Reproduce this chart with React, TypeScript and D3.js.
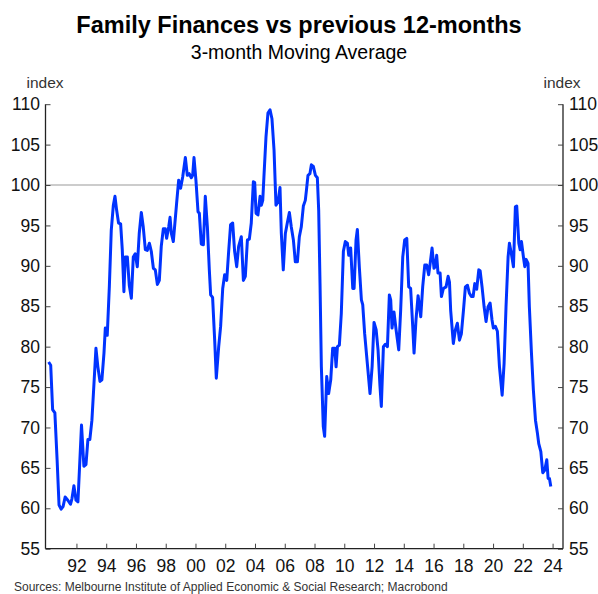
import { useEffect, useRef } from "react";
import * as d3 from "d3";

const W = 598;
const H = 594;

const dates = [
  1990.13, 1990.27, 1990.4, 1990.55, 1990.7, 1990.83, 1990.97, 1991.1, 1991.24, 1991.42,
  1991.6, 1991.7, 1991.83, 1991.97, 1992.1, 1992.34, 1992.5, 1992.64, 1992.77, 1992.9,
  1993.04, 1993.18, 1993.31, 1993.44, 1993.58, 1993.71, 1993.85, 1993.94, 1994.07, 1994.21,
  1994.34, 1994.48, 1994.59, 1994.7, 1994.83, 1994.97, 1995.08, 1995.19, 1995.28, 1995.42,
  1995.55, 1995.69, 1995.82, 1995.95, 1996.09, 1996.22, 1996.36, 1996.49, 1996.63, 1996.76,
  1996.9, 1997.03, 1997.17, 1997.3, 1997.44, 1997.57, 1997.7, 1997.84, 1997.97, 1998.06,
  1998.2, 1998.29, 1998.38, 1998.51, 1998.73, 1998.87, 1999.0, 1999.14, 1999.32, 1999.45,
  1999.58, 1999.72, 1999.81, 1999.9, 2000.03, 2000.17, 2000.26, 2000.39, 2000.53, 2000.66,
  2000.8, 2000.93, 2001.02, 2001.15, 2001.29, 2001.4, 2001.56, 2001.69, 2001.83, 2001.96,
  2002.1, 2002.23, 2002.36, 2002.5, 2002.63, 2002.77, 2002.9, 2003.08, 2003.22, 2003.35,
  2003.49, 2003.62, 2003.75, 2003.89, 2003.98, 2004.07, 2004.2, 2004.34, 2004.43, 2004.52,
  2004.6, 2004.74, 2004.87, 2005.01, 2005.14, 2005.28, 2005.41, 2005.55, 2005.68, 2005.77,
  2005.9, 2006.04, 2006.17, 2006.31, 2006.44, 2006.58, 2006.71, 2006.85, 2006.98, 2007.11,
  2007.25, 2007.38, 2007.46, 2007.56, 2007.69, 2007.79, 2007.92, 2008.06, 2008.19, 2008.28,
  2008.37, 2008.46, 2008.59, 2008.68, 2008.82, 2008.95, 2009.09, 2009.22, 2009.36, 2009.45,
  2009.54, 2009.67, 2009.8, 2009.94, 2010.07, 2010.21, 2010.3, 2010.43, 2010.57, 2010.66,
  2010.79, 2010.88, 2011.01, 2011.15, 2011.24, 2011.37, 2011.55, 2011.73, 2011.87, 2012.0,
  2012.14, 2012.27, 2012.4, 2012.49, 2012.63, 2012.76, 2012.9, 2013.03, 2013.12, 2013.21,
  2013.34, 2013.48, 2013.66, 2013.79, 2013.93, 2014.06, 2014.2, 2014.33, 2014.46, 2014.6,
  2014.69, 2014.82, 2014.96, 2015.14, 2015.27, 2015.41, 2015.54, 2015.67, 2015.76, 2015.9,
  2016.03, 2016.12, 2016.21, 2016.3, 2016.44, 2016.53, 2016.66, 2016.84, 2016.98, 2017.07,
  2017.15, 2017.33, 2017.47, 2017.6, 2017.74, 2017.87, 2018.01, 2018.14, 2018.28, 2018.41,
  2018.54, 2018.66, 2018.77, 2018.9, 2019.04, 2019.13, 2019.26, 2019.4, 2019.53, 2019.66,
  2019.8, 2019.93, 2020.02, 2020.16, 2020.29, 2020.43, 2020.61, 2020.74, 2020.87, 2021.01,
  2021.1, 2021.23, 2021.37, 2021.5, 2021.59, 2021.73, 2021.82, 2021.91, 2022.04, 2022.13,
  2022.22, 2022.35, 2022.44, 2022.58, 2022.71, 2022.85, 2022.98, 2023.07, 2023.21, 2023.34,
  2023.47, 2023.61, 2023.7, 2023.79, 2023.88,
];

const values = [
  78.1, 77.7, 72.2, 71.8, 66.0, 60.4, 59.9, 60.2, 61.4, 61.0,
  60.5, 61.2, 62.8, 61.0, 60.8, 70.3, 65.2, 65.4, 68.5, 68.5,
  70.9, 75.5, 79.8, 77.5, 75.7, 75.9, 79.2, 82.3, 81.4, 87.4,
  94.4, 97.5, 98.6, 96.9, 95.3, 95.2, 92.0, 86.8, 91.1, 91.1,
  87.6, 86.0, 91.1, 91.5, 89.9, 94.0, 96.6, 94.8, 92.0, 91.9,
  92.8, 91.8, 89.7, 89.5, 87.7, 88.2, 92.4, 94.6, 94.6, 93.4,
  94.8, 96.0, 94.0, 93.0, 97.7, 100.6, 99.6, 101.0, 103.4, 101.2,
  101.4, 100.9, 101.2, 103.4, 100.6, 96.7, 96.5, 92.7, 92.6, 98.6,
  94.8, 89.5, 86.4, 86.1, 80.8, 76.1, 80.0, 82.5, 87.2, 88.9,
  88.2, 91.8, 95.1, 95.3, 91.8, 89.9, 92.4, 93.6, 88.2, 88.7,
  93.2, 93.3, 95.3, 100.4, 100.3, 96.5, 96.3, 98.6, 97.5, 98.1,
  101.0, 106.0, 108.9, 109.3, 108.2, 104.3, 97.5, 97.9, 99.7, 94.0,
  89.5, 94.0, 95.3, 96.6, 94.8, 93.2, 90.5, 90.5, 93.6, 94.8,
  97.4, 98.1, 99.4, 101.2, 101.4, 102.5, 102.3, 101.2, 100.9, 96.9,
  87.8, 77.5, 70.1, 68.9, 76.3, 74.2, 75.9, 79.8, 79.8, 77.5,
  80.0, 80.2, 84.1, 91.8, 93.0, 92.8, 91.3, 92.2, 87.2, 87.2,
  93.2, 94.5, 89.9, 85.8, 85.2, 81.6, 77.9, 74.2, 77.5, 83.0,
  82.1, 79.6, 75.1, 72.6, 80.0, 80.3, 80.0, 86.4, 85.8, 82.3,
  84.3, 82.1, 79.6, 84.5, 91.1, 93.2, 93.4, 87.4, 87.2, 82.5,
  79.2, 83.3, 86.3, 83.7, 87.4, 90.1, 90.1, 88.9, 90.1, 92.2,
  89.7, 89.9, 91.3, 89.1, 89.1, 86.2, 87.2, 87.4, 88.7, 88.0,
  84.5, 80.4, 82.1, 82.9, 80.8, 81.6, 84.5, 87.4, 87.6, 86.6,
  86.2, 86.2, 87.8, 87.1, 89.5, 89.4, 87.4, 84.9, 83.1, 84.9,
  85.4, 83.3, 82.3, 82.5, 81.9, 77.5, 74.0, 77.9, 84.9, 91.1,
  92.8, 91.5, 89.9, 97.3, 97.4, 92.8, 92.0, 93.0, 91.1, 89.9,
  90.8, 90.3, 84.9, 79.2, 74.6, 70.9, 69.3, 68.0, 67.0, 64.4,
  64.7, 66.0, 63.7, 63.7, 62.7,
];

const yTicks = [55, 60, 65, 70, 75, 80, 85, 90, 95, 100, 105, 110];
const xTickYears = [1992, 1994, 1996, 1998, 2000, 2002, 2004, 2006, 2008, 2010, 2012, 2014, 2016, 2018, 2020, 2022, 2024];

const title = "Family Finances vs previous 12-months";
const subtitle = "3-month Moving Average";
const source = "Sources: Melbourne Institute of Applied Economic & Social Research; Macrobond";

export default function App() {
  const svgRef = useRef<SVGSVGElement>(null);

  useEffect(() => {
    const svg = d3.select(svgRef.current);
    svg.selectAll("*").remove();

    const left = 45.5;
    const right = 563;
    const x = d3.scaleLinear().domain([1989.92, 2024.7]).range([left, right]);
    const y = d3.scaleLinear().domain([55, 110]).range([548.7, 104.2]);
    const font = "Liberation Sans, Arial, sans-serif";

    svg.append("rect").attr("width", W).attr("height", H).attr("fill", "white");

    // titles
    svg.append("text").attr("x", W / 2).attr("y", 33).attr("text-anchor", "middle")
      .attr("font-family", font).attr("font-size", 23.5).attr("font-weight", "bold").attr("fill", "#000")
      .text(title);
    svg.append("text").attr("x", W / 2).attr("y", 59).attr("text-anchor", "middle")
      .attr("font-family", font).attr("font-size", 19.5).attr("fill", "#000")
      .text(subtitle);

    svg.append("text").attr("x", 45).attr("y", 88).attr("text-anchor", "middle")
      .attr("font-family", font).attr("font-size", 15.5).attr("fill", "#333").text("index");
    svg.append("text").attr("x", 562).attr("y", 88).attr("text-anchor", "middle")
      .attr("font-family", font).attr("font-size", 15.5).attr("fill", "#333").text("index");

    // reference line at 100
    svg.append("line").attr("x1", left).attr("x2", right)
      .attr("y1", y(100)).attr("y2", y(100))
      .attr("stroke", "#9a9a9a").attr("stroke-width", 1.2);

    // axes
    const yLeft = d3.axisLeft(y).tickValues(yTicks).tickSize(-5).tickPadding(5.5).tickFormat(d3.format("d"));
    const gl = svg.append("g").attr("transform", `translate(${left},0)`).call(yLeft);
    const yRight = d3.axisRight(y).tickValues(yTicks).tickSize(-5).tickPadding(6).tickFormat(d3.format("d"));
    const gr = svg.append("g").attr("transform", `translate(${right},0)`).call(yRight);
    const xAxis = d3.axisBottom(x).tickValues(xTickYears).tickSize(-5).tickPadding(10.5)
      .tickFormat((d) => String(d as number).slice(2));
    const gx = svg.append("g").attr("transform", `translate(0,${y(55)})`).call(xAxis);

    [gl, gr, gx].forEach((g) => {
      g.select(".domain").attr("stroke", "#222").attr("stroke-width", 1.3);
      g.selectAll(".tick line").attr("stroke", "#444").attr("stroke-width", 1);
      g.selectAll(".tick text").attr("font-family", font).attr("font-size", 17.5).attr("fill", "#111");
    });
    gl.select(".domain").attr("d", `M0,${y(110)}V${y(55)}`);
    gr.select(".domain").attr("d", `M0,${y(110)}V${y(55)}`);
    gx.select(".domain").attr("d", `M${left},0H${right}`);

    // series
    const pts = dates.map((d, i) => [d, values[i]] as [number, number]);
    const line = d3.line<[number, number]>().x((d) => x(d[0])).y((d) => y(d[1]));
    svg.append("path").datum(pts).attr("d", line).attr("fill", "none")
      .attr("stroke", "#0033ff").attr("stroke-width", 3).attr("stroke-linejoin", "round");

    svg.append("text").attr("x", 14).attr("y", 590.5).attr("font-family", font)
      .attr("font-size", 12).attr("fill", "#333").text(source);
  }, []);

  return (
    <svg ref={svgRef} width={W} height={H}
      style={{ position: "absolute", left: 0, top: 0, display: "block" }} />
  );
}
